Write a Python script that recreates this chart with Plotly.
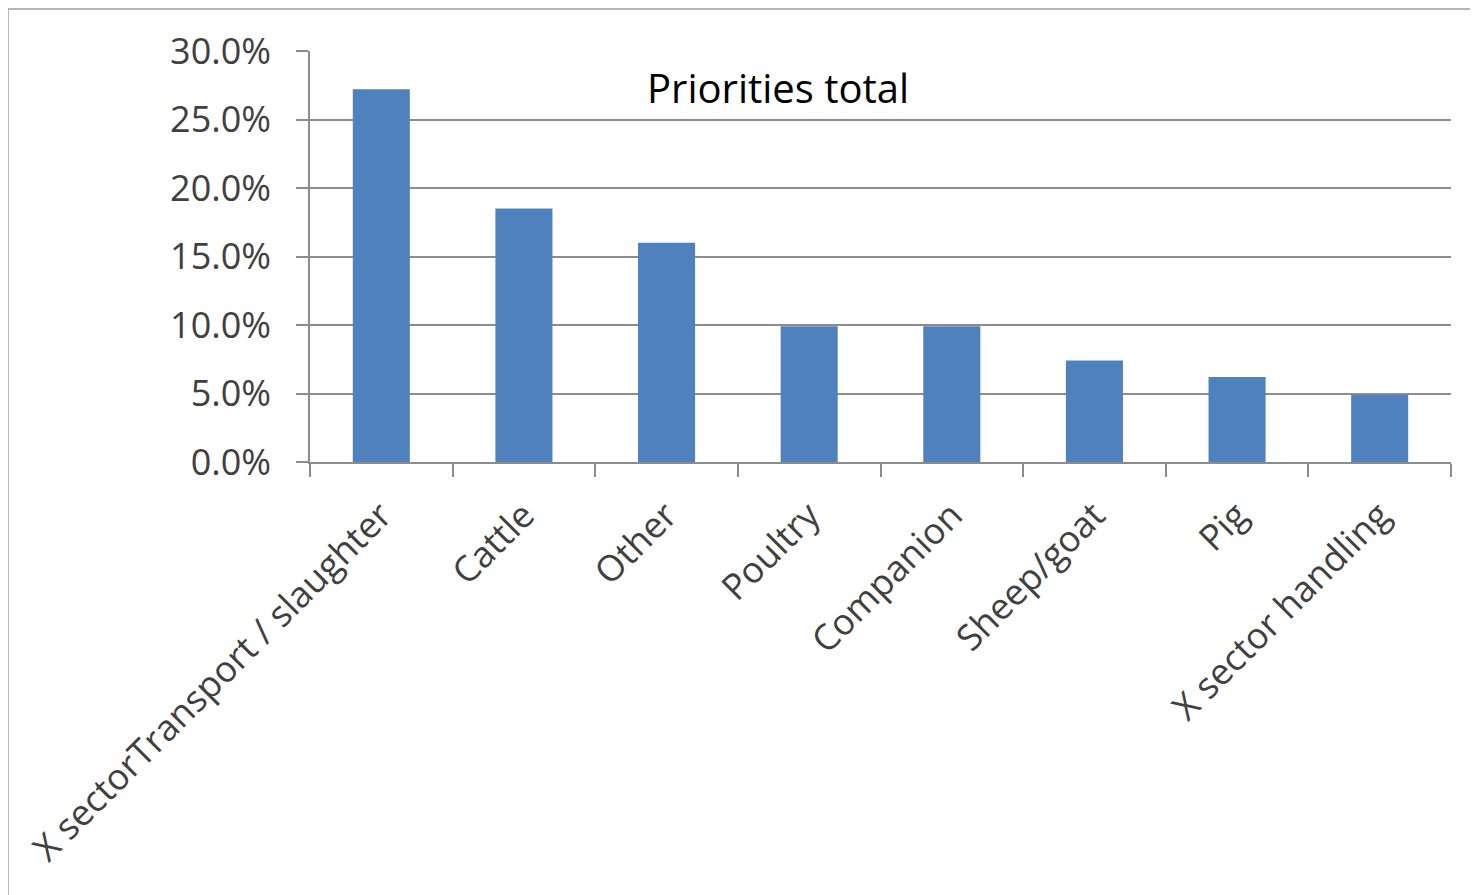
import plotly.graph_objects as go

categories = ["X sectorTransport / slaughter", "Cattle", "Other", "Poultry",
              "Companion", "Sheep/goat", "Pig", "X sector handling"]
values = [0.272, 0.185, 0.160, 0.099, 0.099, 0.074, 0.062, 0.049]
y_ticks = [0.0, 0.05, 0.10, 0.15, 0.20, 0.25, 0.30]

FONT = "Open Sans"
fig = go.Figure(go.Bar(x=categories, y=values, marker=dict(color="#4F81BD", line=dict(width=0))))

fig.update_layout(
    width=1478, height=895,
    margin=dict(l=302, r=35, t=43, b=441),
    plot_bgcolor="white", paper_bgcolor="white",
    bargap=0.6,
    showlegend=False,
    font=dict(family=FONT, size=36, color="#404040"),
)
fig.update_xaxes(
    showline=True, linecolor="#8C8C8C", linewidth=1.5,
    ticks="outside", tickson="boundaries", ticklen=13, tickcolor="#8C8C8C", tickwidth=1.5,
    tickangle=-45, tickfont=dict(family=FONT, size=36, color="#404040"),
    ticklabelstandoff=16,
)
fig.update_yaxes(
    range=[0, 0.30], tickvals=y_ticks, tickformat=".1%",
    showline=True, linecolor="#8C8C8C", linewidth=1.5,
    showgrid=True, gridcolor="#8C8C8C", gridwidth=1.5,
    ticks="outside", ticklen=12, tickcolor="#8C8C8C", tickwidth=1.5,
    tickfont=dict(family=FONT, size=36, color="#404040"),
    ticklabelstandoff=18, zeroline=False,
)
fig.add_annotation(text="Priorities total", xref="paper", yref="paper",
                   x=0.41, y=0.912, xanchor="center", yanchor="middle", showarrow=False,
                   font=dict(family=FONT, size=40, color="#000000"))
fig.add_shape(type="rect", xref="paper", yref="paper",
              x0=-0.2647, x1=1.08, y0=-1.1, y1=1.102,
              line=dict(color="#A0A0A0", width=1.5), fillcolor="rgba(0,0,0,0)", layer="below")
fig.write_html("out.html")
